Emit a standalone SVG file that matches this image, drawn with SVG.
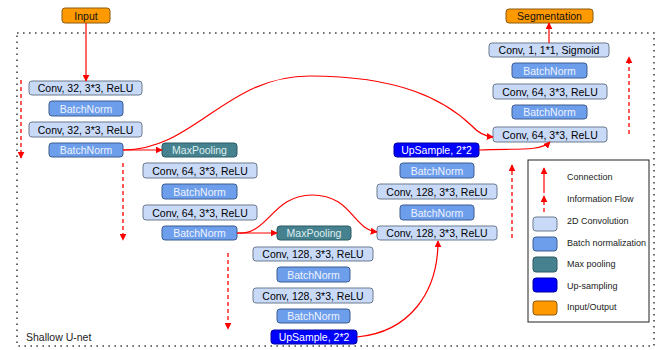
<svg xmlns="http://www.w3.org/2000/svg" width="664" height="350" viewBox="0 0 664 350">
<style>
text{font-family:"Liberation Sans",Arial,sans-serif;font-size:10.5px;text-anchor:middle;dominant-baseline:central}
.conv rect{fill:#c9daf8;stroke:#6b7a8c;stroke-width:1}
.bn rect{fill:#6d9eeb;stroke:#3d5d8f;stroke-width:1}
.bn text{fill:#eef3ff}
.mp rect{fill:#45818e;stroke:#2b5a63;stroke-width:1}
.mp text{fill:#dfeeee}
.up rect{fill:#0000ff;stroke:#0000a0;stroke-width:1}
.up text{fill:#ffffff}
.io rect{fill:#ff9900;stroke:#8a5a10;stroke-width:1}
.io text{fill:#111}
.c{fill:none;stroke:#ff0000;stroke-width:1.2}
.d{fill:none;stroke:#ff0000;stroke-width:1.3;stroke-dasharray:4 3}
.lg{text-anchor:start;font-size:9px;fill:#222}
</style>
<defs>
<marker id="ah" viewBox="0 0 10 10" refX="9" refY="5" markerWidth="7" markerHeight="7" markerUnits="userSpaceOnUse" orient="auto"><path d="M0,0 L10,5 L0,10 z" fill="#ff0000"/></marker>
</defs>
<rect x="17" y="33" width="637" height="313" fill="none" stroke="#444" stroke-width="1.6" stroke-dasharray="1.6 4.4"/>
<text x="26" y="337" style="text-anchor:start;fill:#222">Shallow U-net</text>
<g id="input" class="io"><rect x="62" y="8" width="48" height="15" rx="3"/><text x="86" y="15.5">Input</text></g>
<g id="segmentation" class="io"><rect x="506" y="9" width="87" height="14" rx="3"/><text x="549.5" y="16">Segmentation</text></g>
<g id="conv1" class="conv"><rect x="29" y="81" width="113" height="14" rx="3"/><text x="85.5" y="88">Conv, 32, 3*3, ReLU</text></g>
<g id="bn1" class="bn"><rect x="49" y="101" width="74" height="15" rx="3"/><text x="86" y="108.5">BatchNorm</text></g>
<g id="conv2" class="conv"><rect x="29" y="122" width="113" height="15" rx="3"/><text x="85.5" y="129.5">Conv, 32, 3*3, ReLU</text></g>
<g id="bn2" class="bn"><rect x="49" y="143" width="74" height="14" rx="3"/><text x="86" y="150">BatchNorm</text></g>
<g id="mp1" class="mp"><rect x="162" y="143" width="75" height="14" rx="3"/><text x="199.5" y="150">MaxPooling</text></g>
<g id="conv3" class="conv"><rect x="143" y="163" width="114" height="15" rx="3"/><text x="200" y="170.5">Conv, 64, 3*3, ReLU</text></g>
<g id="bn3" class="bn"><rect x="162" y="184" width="75" height="15" rx="3"/><text x="199.5" y="191.5">BatchNorm</text></g>
<g id="conv4" class="conv"><rect x="143" y="205" width="114" height="15" rx="3"/><text x="200" y="212.5">Conv, 64, 3*3, ReLU</text></g>
<g id="bn4" class="bn"><rect x="162" y="226" width="75" height="14" rx="3"/><text x="199.5" y="233">BatchNorm</text></g>
<g id="mp2" class="mp"><rect x="277" y="226" width="74" height="14" rx="3"/><text x="314" y="233">MaxPooling</text></g>
<g id="conv5" class="conv"><rect x="253" y="247" width="120" height="14" rx="3"/><text x="313" y="254">Conv, 128, 3*3, ReLU</text></g>
<g id="bn5" class="bn"><rect x="277" y="267" width="73" height="15" rx="3"/><text x="313.5" y="274.5">BatchNorm</text></g>
<g id="conv6" class="conv"><rect x="253" y="288" width="120" height="15" rx="3"/><text x="313" y="295.5">Conv, 128, 3*3, ReLU</text></g>
<g id="bn6" class="bn"><rect x="277" y="309" width="73" height="14" rx="3"/><text x="313.5" y="316">BatchNorm</text></g>
<g id="up1" class="up"><rect x="271" y="330" width="86" height="14" rx="3"/><text x="314" y="337">UpSample, 2*2</text></g>
<g id="up2" class="up"><rect x="394" y="143" width="85" height="14" rx="3"/><text x="436.5" y="150">UpSample, 2*2</text></g>
<g id="bn7" class="bn"><rect x="400" y="163" width="74" height="15" rx="3"/><text x="437" y="170.5">BatchNorm</text></g>
<g id="conv7" class="conv"><rect x="377" y="184" width="120" height="15" rx="3"/><text x="437" y="191.5">Conv, 128, 3*3, ReLU</text></g>
<g id="bn8" class="bn"><rect x="400" y="205" width="74" height="15" rx="3"/><text x="437" y="212.5">BatchNorm</text></g>
<g id="conv8" class="conv"><rect x="377" y="226" width="120" height="14" rx="3"/><text x="437" y="233">Conv, 128, 3*3, ReLU</text></g>
<g id="conv9" class="conv"><rect x="489" y="43" width="120" height="14" rx="3"/><text x="549" y="50">Conv, 1, 1*1, Sigmoid</text></g>
<g id="bn9" class="bn"><rect x="512" y="63" width="75" height="15" rx="3"/><text x="549.5" y="70.5">BatchNorm</text></g>
<g id="conv10" class="conv"><rect x="493" y="84" width="114" height="15" rx="3"/><text x="550" y="91.5">Conv, 64, 3*3, ReLU</text></g>
<g id="bn10" class="bn"><rect x="512" y="105" width="75" height="14" rx="3"/><text x="549.5" y="112">BatchNorm</text></g>
<g id="conv11" class="conv"><rect x="493" y="127" width="114" height="15" rx="3"/><text x="550" y="134.5">Conv, 64, 3*3, ReLU</text></g>
<g id="connectors">
<path class="c" d="M86,23 L86,81" marker-end="url(#ah)"/>
<path class="c" d="M549,43 L549,23" marker-end="url(#ah)"/>
<path class="c" d="M123,150 L162,150" marker-end="url(#ah)"/>
<path class="c" d="M237,233 L277,233" marker-end="url(#ah)"/>
<path class="c" d="M123,150 C195,150 225,76 310,76 C400,76 445,100 472,126 Q481,136 493,137" marker-end="url(#ah)"/>
<path class="c" d="M237,233 C268,236 272,195 312,195 C352,195 352,229 377,232" marker-end="url(#ah)"/>
<path class="c" d="M357,337 C410,332 438,292 438,241" marker-end="url(#ah)"/>
<path class="c" d="M479,150 C512,148 540,152 550,142" marker-end="url(#ah)"/>
<path class="d" d="M21,80 L21,158" marker-end="url(#ah)"/>
<path class="d" d="M123,163 L123,240" marker-end="url(#ah)"/>
<path class="d" d="M228,253 L228,329" marker-end="url(#ah)"/>
<path class="d" d="M512,238 L512,165" marker-end="url(#ah)"/>
<path class="d" d="M629,134 L629,57" marker-end="url(#ah)"/>
</g>
<g id="legend">
<rect x="528" y="160" width="121" height="162" fill="#fff" stroke="#222" stroke-width="1"/>
<path class="c" d="M544,193 L544,168" marker-end="url(#ah)"/>
<text class="lg" x="567" y="177">Connection</text>
<path class="d" d="M544,212 L544,196" marker-end="url(#ah)"/>
<text class="lg" x="567" y="199">Information Flow</text>
<g class="conv"><rect x="533" y="217" width="24" height="14" rx="3"/></g>
<text class="lg" x="567" y="221">2D Convolution</text>
<g class="bn"><rect x="533" y="237" width="24" height="14" rx="3"/></g>
<text class="lg" x="567" y="243">Batch normalization</text>
<g class="mp"><rect x="533" y="257" width="24" height="15" rx="3"/></g>
<text class="lg" x="567" y="264">Max pooling</text>
<g class="up"><rect x="533" y="278" width="24" height="14" rx="3"/></g>
<text class="lg" x="567" y="286">Up-sampling</text>
<g class="io"><rect x="533" y="301" width="24" height="14" rx="3"/></g>
<text class="lg" x="567" y="307">Input/Output</text>
</g>
</svg>
